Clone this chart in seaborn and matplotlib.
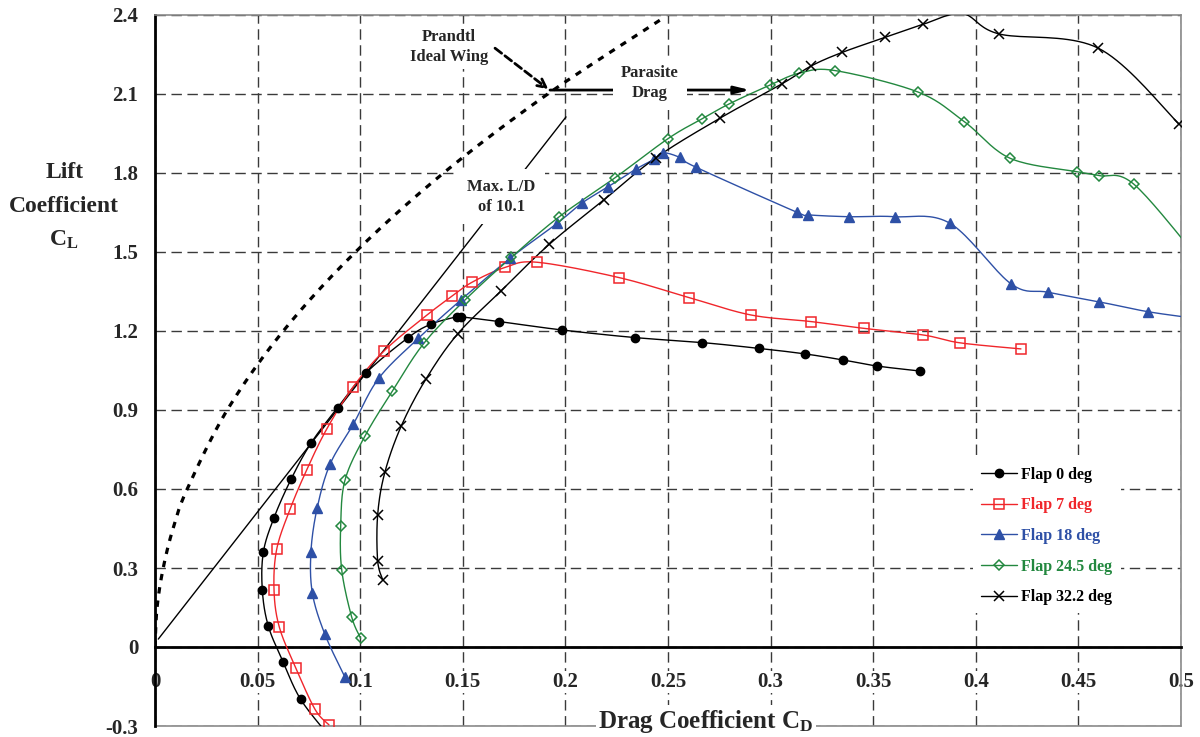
import numpy as np
import matplotlib
matplotlib.use("Agg")
import matplotlib.pyplot as plt
import seaborn as sns
from matplotlib.lines import Line2D

# ---------------- data ----------------
flap0_cd = [0.085, 0.071, 0.0625, 0.0552, 0.0523, 0.0528, 0.058, 0.0663, 0.076, 0.089, 0.1027,
            0.1234, 0.1345, 0.147, 0.149, 0.1676, 0.1982, 0.2339, 0.2668, 0.2943, 0.3168,
            0.3353, 0.3519, 0.3728]
flap0_cl = [-0.34, -0.199, -0.058, 0.08, 0.216, 0.36, 0.491, 0.637, 0.774, 0.909, 1.04,
            1.175, 1.226, 1.254, 1.254, 1.236, 1.204, 1.175, 1.156, 1.134, 1.113,
            1.09, 1.067, 1.048]

flap7_cd = [0.0848, 0.078, 0.0687, 0.0606, 0.058, 0.0593, 0.0658, 0.0739, 0.0837, 0.0967,
            0.1117, 0.1326, 0.1449, 0.1547, 0.1708, 0.1863, 0.2261, 0.2602, 0.2903, 0.3195,
            0.3455, 0.3743, 0.3923, 0.422]
flap7_cl = [-0.296, -0.237, -0.081, 0.075, 0.216, 0.371, 0.523, 0.672, 0.828, 0.989,
            1.125, 1.261, 1.333, 1.386, 1.442, 1.461, 1.403, 1.327, 1.261, 1.236,
            1.21, 1.185, 1.155, 1.132]

flap18_cd = [0.0926, 0.0828, 0.0767, 0.076, 0.079, 0.0853, 0.0967, 0.109, 0.1283, 0.1491,
             0.173, 0.196, 0.2079, 0.2209, 0.2344, 0.2432, 0.2474, 0.2558, 0.2636, 0.3131,
             0.3184, 0.3382, 0.3606, 0.3874, 0.4172, 0.4353, 0.46, 0.4841, 0.51]
flap18_cl = [-0.115, 0.048, 0.204, 0.362, 0.527, 0.694, 0.847, 1.02, 1.172, 1.318,
             1.476, 1.609, 1.685, 1.748, 1.815, 1.852, 1.877, 1.859, 1.822, 1.65,
             1.641, 1.634, 1.634, 1.609, 1.379, 1.347, 1.311, 1.273, 1.245]

flap245_cd = [0.1002, 0.0958, 0.091, 0.0905, 0.0926, 0.1023, 0.1157, 0.131, 0.1511, 0.1737,
              0.197, 0.2242, 0.2501, 0.2664, 0.2797, 0.2997, 0.314, 0.3314, 0.372, 0.3944,
              0.4167, 0.4491, 0.46, 0.4771, 0.51]
flap245_cl = [0.033, 0.115, 0.292, 0.46, 0.634, 0.801, 0.972, 1.153, 1.318, 1.48,
              1.634, 1.782, 1.931, 2.005, 2.062, 2.134, 2.179, 2.189, 2.107, 1.995,
              1.856, 1.805, 1.79, 1.757, 1.46]

flap322_cd = [0.111, 0.1085, 0.1085, 0.112, 0.120, 0.132, 0.1475, 0.1686, 0.1921, 0.2188,
              0.2441, 0.2753, 0.3054, 0.3199, 0.3349, 0.3558, 0.3744, 0.3935, 0.4114, 0.4597,
              0.499]
flap322_cl = [0.254, 0.328, 0.501, 0.663, 0.839, 1.017, 1.189, 1.352, 1.529, 1.698,
              1.858, 2.008, 2.138, 2.207, 2.258, 2.315, 2.365, 2.405, 2.328, 2.274,
              1.986]

# Prandtl ideal wing (dotted)
prandtl_cl = [0.0, 0.15, 0.3, 0.45, 0.6, 0.9, 1.2, 1.5, 1.8, 2.1, 2.38]
prandtl_cd = [0.0, 0.001, 0.004, 0.0088, 0.0157, 0.0352, 0.0625, 0.0977, 0.1406, 0.1914, 0.246]

# Max L/D line
ld_cd = [0.0016, 0.2003]
ld_cl = [0.03, 2.013]

series_labels = ["Flap 0 deg", "Flap 7 deg", "Flap 18 deg", "Flap 24.5 deg", "Flap 32.2 deg"]
series_colors = ["#000000", "#F0262B", "#2E50A6", "#23883F", "#000000"]

x_ticks = [0, 0.05, 0.1, 0.15, 0.2, 0.25, 0.3, 0.35, 0.4, 0.45, 0.5]
x_tick_labels = ["0", "0.05", "0.1", "0.15", "0.2", "0.25", "0.3", "0.35", "0.4", "0.45", "0.5"]
y_ticks = [-0.3, 0, 0.3, 0.6, 0.9, 1.2, 1.5, 1.8, 2.1, 2.4]
y_tick_labels = ["-0.3", "0", "0.3", "0.6", "0.9", "1.2", "1.5", "1.8", "2.1", "2.4"]

XLIM = (0, 0.5)
YLIM = (-0.3, 2.4)

# ---------------- style ----------------
sns.set_style("white")
plt.rcParams['font.family'] = ['Liberation Serif', 'DejaVu Serif']
plt.rcParams['font.weight'] = 'bold'
plt.rcParams['mathtext.fontset'] = 'custom'
plt.rcParams['mathtext.rm'] = 'Liberation Serif:bold'
plt.rcParams['mathtext.it'] = 'Liberation Serif:bold'
plt.rcParams['mathtext.bf'] = 'Liberation Serif:bold'

fig = plt.figure(figsize=(12, 7.37), dpi=100)
ax = fig.add_axes([155 / 1200, 1 - 726 / 737, 1026 / 1200, 711 / 737])
ax.set_xlim(*XLIM)
ax.set_ylim(*YLIM)

AX_W, AX_H = 1026.0, 711.0


def smooth(xs, ys, n=20):
    """Excel-like smoothed line (Catmull-Rom Bezier) computed in screen proportions."""
    sx = AX_W / (XLIM[1] - XLIM[0])
    sy = AX_H / (YLIM[1] - YLIM[0])
    p = np.column_stack([np.asarray(xs) * sx, np.asarray(ys) * sy])
    out = [p[0]]
    m = len(p)
    t = np.linspace(0, 1, n + 1)[1:][:, None]
    for i in range(m - 1):
        p0 = p[i - 1] if i > 0 else p[i]
        p1 = p[i]
        p2 = p[i + 1]
        p3 = p[i + 2] if i + 2 < m else p[i + 1]
        c1 = p1 + (p2 - p0) / 6.0
        c2 = p2 - (p3 - p1) / 6.0
        seg = ((1 - t) ** 3) * p1 + 3 * ((1 - t) ** 2) * t * c1 + 3 * (1 - t) * t ** 2 * c2 + t ** 3 * p2
        out.extend(seg)
    out = np.array(out)
    return out[:, 0] / sx, out[:, 1] / sy


# grid
ax.set_xticks(x_ticks)
ax.set_yticks(y_ticks)
ax.grid(True, color="#3a3a3a", lw=1.0, linestyle=(0, (7.5, 4)))
ax.set_axisbelow(True)

# frame
for s in ["top", "right"]:
    ax.spines[s].set_color("#8a8a8a")
    ax.spines[s].set_linewidth(1.2)
ax.spines["left"].set_color("black")
ax.spines["left"].set_linewidth(2.0)
ax.spines["bottom"].set_position(("data", 0))
ax.spines["bottom"].set_color("black")
ax.spines["bottom"].set_linewidth(2.0)
ax.plot([0, 1], [0, 0], transform=ax.transAxes, color="#8a8a8a", lw=1.2, clip_on=False, zorder=2.4)

ax.set_xticklabels(x_tick_labels)
ax.set_yticklabels(y_tick_labels)
ax.tick_params(axis="x", direction="in", length=5, width=1.5, pad=18, labelsize=15, color="black")
ax.tick_params(axis="y", direction="in", length=5, width=1.5, pad=12, labelsize=15, color="black")
for lbl in ax.get_xticklabels():
    lbl.set_bbox(dict(facecolor="white", edgecolor="none", pad=0.5))

# Prandtl ideal wing (dotted)
pcx, pcy = smooth(prandtl_cd, prandtl_cl)
sns.lineplot(x=pcx, y=pcy, sort=False, estimator=None, ax=ax, color="black", lw=2.3,
             linestyle=(0, (2.0, 2.2)), legend=False)

# Max L/D line
sns.lineplot(x=ld_cd, y=ld_cl, sort=False, estimator=None, ax=ax, color="black", lw=1.0, legend=False)

# series
marker_specs = [
    dict(marker="o", ms=6, mfc="#000000", mec="#000000", mew=1.0),
    dict(marker="s", ms=6.5, mfc="none", mec=series_colors[1], mew=1.1),
    dict(marker="^", ms=7.5, mfc=series_colors[2], mec=series_colors[2], mew=1.0),
    dict(marker="D", ms=5, mfc="none", mec=series_colors[3], mew=1.1),
    dict(marker="x", ms=7, mfc="none", mec="#000000", mew=1.1),
]
all_cd = [flap0_cd, flap7_cd, flap18_cd, flap245_cd, flap322_cd]
all_cl = [flap0_cl, flap7_cl, flap18_cl, flap245_cl, flap322_cl]
handles = []
for cd, cl, col, spec, lab in zip(all_cd, all_cl, series_colors, marker_specs, series_labels):
    sx_, sy_ = smooth(cd, cl)
    sns.lineplot(x=sx_, y=sy_, sort=False, estimator=None, ax=ax, color=col, lw=1.0, legend=False, zorder=3)
    # markers only for points inside the plot range (out-of-range points are not marked)
    cd_a, cl_a = np.asarray(cd), np.asarray(cl)
    inside = (cd_a <= XLIM[1]) & (cl_a >= YLIM[0]) & (cl_a <= YLIM[1])
    ax.plot(cd_a[inside], cl_a[inside], ls="none", zorder=7, **spec)
    handles.append(Line2D([], [], color=col, lw=1.0, **spec))

# annotations
ax.annotate("", xy=(0.1917, 2.118), xytext=(0.1657, 2.274),
            arrowprops=dict(arrowstyle="->,head_length=0.6,head_width=0.3", lw=2.0,
                            linestyle=(0, (3, 1.5)), color="black", shrinkA=0, shrinkB=0), zorder=4)
ax.annotate("", xy=(0.29, 2.115), xytext=(0.1925, 2.115),
            arrowprops=dict(arrowstyle="-|>,head_length=0.9,head_width=0.22", lw=2.0,
                            color="black", shrinkA=0, shrinkB=0), zorder=4)
txt_box = dict(facecolor="white", edgecolor="none", pad=3)
ax.text(0.1434, 2.279, "Prandtl\nIdeal Wing", ha="center", va="center", fontsize=12,
        linespacing=1.35, bbox=txt_box, zorder=6)
ax.text(0.2412, 2.141, "Parasite\nDrag", ha="center", va="center", fontsize=12,
        linespacing=1.35, bbox=dict(facecolor="white", edgecolor="none", pad=6), zorder=6)
ax.text(0.1689, 1.710, "Max. L/D\nof 10.1", ha="center", va="center", fontsize=12,
        linespacing=1.35, bbox=dict(facecolor="white", edgecolor="none", pad=7), zorder=6)

# axis titles
ax.text(0.537, 0.006, "Drag Coefficient C$_{\\mathrm{D}}$", transform=ax.transAxes, ha="center",
        va="center", fontsize=18, bbox=dict(facecolor="white", edgecolor="none", pad=2),
        zorder=6, clip_on=False)
ylab_x = -0.0885
for txt, yy in [("Lift", 0.778), ("Coefficient", 0.731), ("C$_{\\mathrm{L}}$", 0.684)]:
    ax.text(ylab_x, yy, txt, transform=ax.transAxes, ha="center", va="center", fontsize=17)

leg = ax.legend(handles, series_labels, loc="upper left", bbox_to_anchor=(0.797, 0.376),
                frameon=True, facecolor="white", edgecolor="none", framealpha=1, fancybox=False,
                borderaxespad=0, borderpad=0.5, handlelength=2.25, handletextpad=0.3,
                labelspacing=0.92, prop={"family": "Liberation Serif", "weight": "bold", "size": 11.5})
for t, c in zip(leg.get_texts(), series_colors):
    t.set_color(c)
leg.set_zorder(6)

fig.savefig("out.png", dpi=100)
